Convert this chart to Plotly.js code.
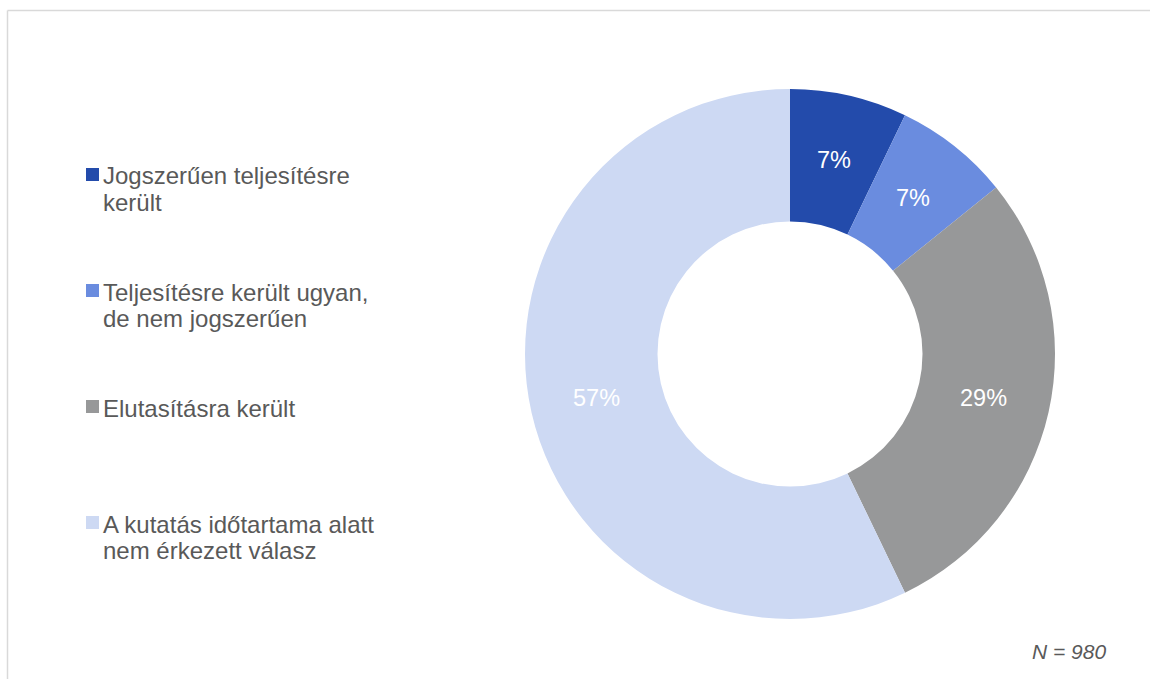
<!DOCTYPE html>
<html>
<head>
<meta charset="utf-8">
<script src="https://cdn.plot.ly/plotly-3.0.1.min.js"></script>
<style>html,body{margin:0;padding:0;background:#fff;}#chart{width:1150px;height:679px;}</style>
</head>
<body>
<div id="chart"></div>
<script>
// Data
const categories = [
  "Jogszerűen teljesítésre<br>került",
  "Teljesítésre került ugyan,<br>de nem jogszerűen",
  "Elutasításra került",
  "A kutatás időtartama alatt<br>nem érkezett válasz"
];
const counts = [70, 69, 281, 560];
const colors = ["#234BAB", "#6A8CDF", "#979899", "#CDD9F3"];
const noteText = "N = 980";

const W = 1150, H = 679;
const px = x => x / W;
const py = y => 1 - y / H;
const FONT = "Liberation Sans, Arial, sans-serif";

// geometry of the donut (pixels)
const cx = 790, cy = 354, R = 265, HOLE = 0.5;

const trace = {
  type: "pie",
  labels: categories,
  values: counts,
  sort: false,
  direction: "clockwise",
  rotation: 0,
  hole: HOLE,
  marker: {colors: colors, line: {width: 0}},
  textinfo: "none",
  showlegend: false,
  hoverinfo: "label+percent",
  domain: {x: [px(cx - R), px(cx + R)], y: [py(cy + R), py(cy - R)]}
};

const annotations = [];
const shapes = [];

// percentage labels at mid-radius of the ring, derived from the data
const total = counts.reduce((a, b) => a + b, 0);
let cum = 0;
const rMid = R * (1 + HOLE) / 2;
counts.forEach((v, i) => {
  const mid = (cum + v / 2) / total * 2 * Math.PI;
  cum += v;
  annotations.push({
    xref: "paper", yref: "paper",
    x: px(cx + rMid * Math.sin(mid)), y: py(cy - rMid * Math.cos(mid)),
    xanchor: "center", yanchor: "middle",
    text: Math.round(v / total * 100) + "%", showarrow: false,
    font: {family: FONT, size: 23.5, color: "#ffffff"}
  });
});

// Custom legend layout
const legendTop = [176, 292, 408, 524];
const lineGap = 26.5;
categories.forEach((c, i) => {
  c.split("<br>").forEach((line, j) => {
    annotations.push({
      xref: "paper", yref: "paper",
      x: px(101), y: py(legendTop[i] + j * lineGap),
      xanchor: "left", yanchor: "middle", align: "left",
      text: line, showarrow: false,
      font: {family: FONT, size: 24, color: "#595959"}
    });
  });
  shapes.push({
    type: "rect", xref: "paper", yref: "paper",
    x0: px(86), x1: px(99), y0: py(legendTop[i] - 8), y1: py(legendTop[i] + 5),
    fillcolor: colors[i], line: {width: 0}
  });
});
annotations.push({
  xref: "paper", yref: "paper", x: px(1108), y: py(651),
  xanchor: "right", yanchor: "middle", text: "<i>" + noteText + "</i>", showarrow: false,
  font: {family: FONT, size: 21, color: "#595959"}
});
// frame lines
shapes.push({type: "line", xref: "paper", yref: "paper", x0: px(7.5), x1: 1, y0: py(10.5), y1: py(10.5), line: {color: "#D9D9D9", width: 1.5}});
shapes.push({type: "line", xref: "paper", yref: "paper", x0: px(7.5), x1: px(7.5), y0: py(10.5), y1: 0, line: {color: "#D9D9D9", width: 1.5}});

const layout = {
  width: W, height: H,
  margin: {l: 0, r: 0, t: 0, b: 0},
  paper_bgcolor: "#ffffff",
  plot_bgcolor: "#ffffff",
  showlegend: false,
  annotations: annotations,
  shapes: shapes
};

Plotly.newPlot("chart", [trace], layout, {displayModeBar: false, staticPlot: true});
</script>
</body>
</html>
